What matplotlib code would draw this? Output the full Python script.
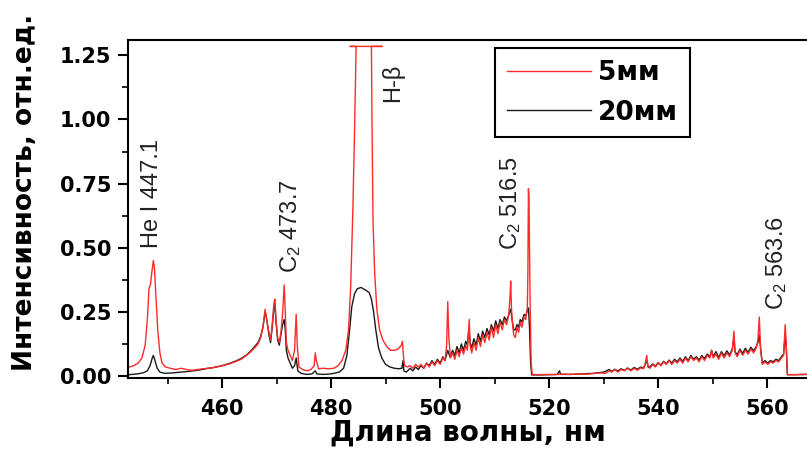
import matplotlib
matplotlib.use("Agg")
import matplotlib.pyplot as plt
from matplotlib.ticker import MultipleLocator, FormatStrFormatter

# спектр, 5 мм
wl_5mm = [443.0, 443.8, 444.6, 445.3, 445.9, 446.3, 446.6, 446.9, 447.1, 447.4,
          447.6, 447.9, 448.2, 448.6, 449.0, 449.6, 450.5, 451.5, 452.5, 453.5,
          454.5, 455.5, 456.5, 457.5, 458.5, 459.5, 460.5, 461.5, 462.5, 463.5,
          464.5, 465.3, 466.0, 466.6, 467.1, 467.5, 467.9, 468.2, 468.6, 468.9,
          469.2, 469.5, 469.7, 469.9, 470.2, 470.5, 470.8, 471.1, 471.4, 471.6,
          471.8, 472.1, 472.5, 472.9, 473.3, 473.6, 473.8, 474.1, 474.8, 475.6,
          476.3, 476.9, 477.1, 477.3, 477.7, 478.5, 479.5, 480.5, 481.3, 482.0,
          482.7, 483.2, 483.6, 484.0, 484.3, 484.6, 483.5, 489.4, 487.4, 487.5,
          487.7, 488.0, 488.4, 488.9, 489.5, 490.2, 490.9, 491.6, 492.3, 492.9,
          493.1, 493.3, 493.5, 494.0,
          494.5, 495.0, 495.5, 496.0, 496.5, 497.0, 497.5, 498.0, 498.5, 499.0,
          499.5, 500.0, 500.5, 500.9, 501.2, 501.4, 501.6, 501.9, 502.3, 502.7,
          503.1, 503.5, 503.9, 504.3, 504.7, 505.0, 505.2, 505.35, 505.5, 505.8,
          506.2, 506.6, 507.0, 507.4, 507.8, 508.2, 508.6, 509.0, 509.4, 509.8,
          510.2, 510.6, 511.0, 511.4, 511.8, 512.2, 512.6, 512.8, 512.95, 513.1,
          513.3, 513.5, 513.8, 514.1, 514.4, 514.7, 515.0, 515.4, 515.7, 516.0,
          516.1, 516.2, 516.3, 516.5, 516.7, 516.9,
          518.0, 519.5, 521.0, 522.5, 524.0, 525.5, 527.0, 528.5, 529.5, 530.3,
          531.0, 531.5, 532.0, 532.6, 533.2, 533.8, 534.4, 535.0, 535.6, 536.2,
          536.8, 537.3, 537.6, 537.9, 538.1, 538.5, 539.0, 539.5, 540.0, 540.5,
          541.0, 541.5, 542.0, 542.5, 543.0, 543.5, 544.0, 544.5, 545.0, 545.5,
          546.0, 546.5, 547.0, 547.5, 548.0, 548.5, 549.0, 549.5, 549.8, 550.1,
          550.6, 551.1, 551.6, 552.1, 552.6, 553.1, 553.6, 553.9, 554.1, 554.5,
          555.0, 555.5, 556.0, 556.5, 557.0, 557.5, 558.0, 558.3, 558.55, 558.8,
          559.1, 559.6, 560.1, 560.6, 561.1, 561.6, 562.1, 562.6, 563.0, 563.3,
          563.5, 563.7, 565.0, 567.2]
int_5mm = [0.035, 0.04, 0.05, 0.07, 0.12, 0.22, 0.34, 0.36, 0.40, 0.45,
           0.42, 0.30, 0.18, 0.09, 0.05, 0.035, 0.03, 0.025, 0.03, 0.025,
           0.022, 0.025, 0.028, 0.03, 0.033, 0.037, 0.042, 0.048, 0.056, 0.065,
           0.08, 0.095, 0.11, 0.125, 0.15, 0.19, 0.26, 0.22, 0.17, 0.14,
           0.20, 0.28, 0.30, 0.22, 0.15, 0.13, 0.17, 0.24, 0.355, 0.25,
           0.13, 0.10, 0.08, 0.06, 0.10, 0.24, 0.12, 0.035, 0.025, 0.02,
           0.025, 0.04, 0.09, 0.06, 0.028, 0.03, 0.028, 0.03, 0.04, 0.06,
           0.10, 0.18, 0.35, 0.65, 0.95, 1.285, 1.285, 1.285, 1.285, 1.0,
           0.60, 0.40, 0.26, 0.18, 0.14, 0.115, 0.10, 0.10, 0.105, 0.12,
           0.135, 0.07, 0.04, 0.035,
           0.04, 0.03, 0.045, 0.035, 0.045, 0.03, 0.05, 0.035, 0.055, 0.04,
           0.06, 0.045, 0.07, 0.06, 0.12, 0.29, 0.15, 0.07, 0.09, 0.065,
           0.10, 0.075, 0.11, 0.085, 0.12, 0.10, 0.17, 0.22, 0.12, 0.09,
           0.13, 0.10, 0.15, 0.115, 0.16, 0.13, 0.17, 0.14, 0.19, 0.15,
           0.20, 0.165, 0.21, 0.18, 0.22, 0.20, 0.24, 0.30, 0.37, 0.26,
           0.20, 0.16, 0.15, 0.19, 0.17, 0.21, 0.19, 0.23, 0.22, 0.265,
           0.40, 0.73, 0.70, 0.30, 0.05, 0.006,
           0.005, 0.006, 0.005, 0.007, 0.006, 0.008, 0.007, 0.01, 0.012, 0.01,
           0.02, 0.015, 0.025, 0.015, 0.025, 0.02, 0.03, 0.02, 0.03, 0.022,
           0.032, 0.028, 0.045, 0.08, 0.04, 0.03, 0.045, 0.035, 0.05, 0.04,
           0.055, 0.045, 0.06, 0.045, 0.06, 0.05, 0.065, 0.05, 0.07, 0.055,
           0.075, 0.06, 0.07, 0.055, 0.075, 0.06, 0.08, 0.07, 0.10, 0.07,
           0.085, 0.065, 0.09, 0.07, 0.09, 0.075, 0.10, 0.175, 0.09, 0.075,
           0.10, 0.08, 0.10, 0.085, 0.105, 0.09, 0.11, 0.14, 0.23, 0.10,
           0.045, 0.055, 0.045, 0.055, 0.05, 0.06, 0.055, 0.07, 0.08, 0.20,
           0.12, 0.005, 0.005, 0.006]

# спектр, 20 мм
wl_20mm = [443.0, 444.5, 445.5, 446.3, 446.8, 447.2, 447.4, 447.7, 448.1, 448.6,
           449.5, 451.0, 452.5, 454.0, 455.5, 456.5, 457.5, 458.5, 459.5, 460.5,
           461.5, 462.5, 463.5, 464.5, 465.3, 466.0, 466.6, 467.1, 467.5, 467.9,
           468.2, 468.6, 468.9, 469.2, 469.5, 469.7, 469.9, 470.2, 470.5, 470.8,
           471.1, 471.4, 471.6, 471.8, 472.1, 472.5, 472.9, 473.3, 473.6, 473.9,
           474.5, 475.5, 476.5, 477.1, 477.4, 478.5, 479.5, 480.5, 481.5, 482.3,
           482.9, 483.4, 483.8, 484.3, 484.8, 485.5, 486.3, 487.0, 487.4, 487.8,
           488.2, 488.7, 489.3, 490.0, 490.8, 491.6, 492.4, 493.0, 493.2, 493.35,
           493.8, 494.5, 495.0, 495.5, 496.0, 496.5, 497.0, 497.5, 498.0, 498.5,
           499.0, 499.5, 500.0, 500.5, 500.9, 501.4, 501.8, 502.3, 502.7, 503.1,
           503.5, 503.9, 504.3, 504.7, 505.0, 505.3, 505.5, 505.8, 506.2, 506.6,
           507.0, 507.4, 507.8, 508.2, 508.6, 509.0, 509.4, 509.8, 510.2, 510.6,
           511.0, 511.4, 511.8, 512.2, 512.6, 512.95, 513.2, 513.5, 513.8, 514.1,
           514.4, 514.7, 515.0, 515.4, 515.7, 516.0, 516.2, 516.4, 516.6, 516.8,
           518.5, 520.0, 521.5, 521.9, 522.1, 524.0, 526.0, 528.0, 530.0, 531.0,
           531.5, 532.0, 532.6, 533.2, 533.8, 534.4, 535.0, 535.6, 536.2, 536.8,
           537.3, 537.9, 538.2, 538.6, 539.0, 539.5, 540.0, 540.5, 541.0, 541.5,
           542.0, 542.5, 543.0, 543.5, 544.0, 544.5, 545.0, 545.5, 546.0, 546.5,
           547.0, 547.5, 548.0, 548.5, 549.0, 549.5, 549.8, 550.1, 550.6, 551.1,
           551.6, 552.1, 552.6, 553.1, 553.6, 553.9, 554.1, 554.5, 555.0, 555.5,
           556.0, 556.5, 557.0, 557.5, 558.0, 558.3, 558.55, 558.8, 559.1, 559.6,
           560.1, 560.6, 561.1, 561.6, 562.1, 562.6, 563.0, 563.3, 563.5, 563.7,
           565.0, 567.2]
int_20mm = [0.005, 0.008, 0.012, 0.02, 0.04, 0.07, 0.08, 0.06, 0.03, 0.015,
            0.01, 0.012, 0.015, 0.018, 0.022, 0.026, 0.03, 0.033, 0.038, 0.043,
            0.05, 0.058, 0.068, 0.082, 0.098, 0.115, 0.13, 0.155, 0.19, 0.25,
            0.22, 0.16, 0.13, 0.19, 0.26, 0.28, 0.21, 0.14, 0.12, 0.16,
            0.20, 0.22, 0.18, 0.10, 0.07, 0.05, 0.03, 0.04, 0.07, 0.02,
            0.01, 0.006, 0.008, 0.02, 0.008, 0.006, 0.007, 0.01, 0.015, 0.03,
            0.08, 0.18, 0.27, 0.32, 0.34, 0.345, 0.335, 0.325, 0.30, 0.25,
            0.18, 0.11, 0.07, 0.045, 0.035, 0.03, 0.028, 0.03, 0.06, 0.02,
            0.015, 0.03, 0.02, 0.035, 0.025, 0.04, 0.03, 0.05, 0.04, 0.06,
            0.045, 0.065, 0.05, 0.075, 0.06, 0.10, 0.075, 0.10, 0.08, 0.115,
            0.09, 0.125, 0.10, 0.135, 0.12, 0.19, 0.13, 0.11, 0.145, 0.12,
            0.165, 0.135, 0.175, 0.15, 0.185, 0.16, 0.20, 0.175, 0.215, 0.185,
            0.22, 0.20, 0.23, 0.215, 0.24, 0.26, 0.22, 0.18, 0.18, 0.20,
            0.19, 0.22, 0.21, 0.24, 0.235, 0.255, 0.265, 0.19, 0.05, 0.004,
            0.004, 0.005, 0.006, 0.02, 0.006, 0.006, 0.008, 0.01, 0.015, 0.025,
            0.018, 0.026, 0.019, 0.028, 0.021, 0.031, 0.023, 0.033, 0.026, 0.035,
            0.03, 0.06, 0.033, 0.038, 0.047, 0.038, 0.052, 0.042, 0.057, 0.047,
            0.062, 0.05, 0.065, 0.055, 0.07, 0.057, 0.075, 0.06, 0.08, 0.065,
            0.075, 0.062, 0.08, 0.068, 0.085, 0.075, 0.10, 0.075, 0.095, 0.072,
            0.095, 0.078, 0.098, 0.082, 0.105, 0.15, 0.095, 0.082, 0.105, 0.088,
            0.108, 0.092, 0.112, 0.098, 0.115, 0.13, 0.16, 0.105, 0.05, 0.06,
            0.05, 0.06, 0.055, 0.065, 0.06, 0.075, 0.085, 0.16, 0.11, 0.005,
            0.005, 0.006]

# подписи линий: текст, x, y
line_labels = ["He I 447.1", "C$_2$ 473.7", "H-β", "C$_2$ 516.5", "C$_2$ 563.6"]
label_x = [447.2, 472.5, 491.2, 513.0, 561.7]
label_y = [0.50, 0.40, 1.07, 0.49, 0.257]

plt.rcParams["font.family"] = "DejaVu Sans"
plt.rcParams["font.weight"] = "bold"
plt.rcParams["mathtext.default"] = "regular"

fig = plt.figure(figsize=(8.07, 4.5), dpi=100)
ax = fig.add_axes([128 / 807, 72 / 450, 679 / 807, 338 / 450])

l20, = ax.plot(wl_20mm, int_20mm, color="#1a1a1a", lw=1.0, label="20мм")
l5, = ax.plot(wl_5mm, int_5mm, color="#ff2a2a", lw=1.0, label="5мм")

for txt, x, y in zip(line_labels, label_x, label_y):
    ax.text(x, y, txt, rotation=90, ha="center", va="bottom", fontsize=17,
            family="Liberation Sans", fontweight="normal", color="#222222")

ax.set_xlim(442.75, 567.3)
ax.set_ylim(-0.008, 1.31)
ax.xaxis.set_major_locator(MultipleLocator(20))
ax.xaxis.set_minor_locator(MultipleLocator(10))
ax.yaxis.set_major_locator(MultipleLocator(0.25))
ax.yaxis.set_minor_locator(MultipleLocator(0.125))
ax.yaxis.set_major_formatter(FormatStrFormatter("%.2f"))
ax.tick_params(which="major", direction="out", length=7, width=1.5, labelsize=15, pad=5)
ax.tick_params(axis="x", which="major", pad=8)
ax.tick_params(which="minor", direction="out", length=4, width=1.2)
ax.spines["right"].set_visible(False)
for s in ["left", "bottom", "top"]:
    ax.spines[s].set_linewidth(1.5)

ax.set_xlabel("Длина волны, нм", fontsize=20, fontweight="bold", labelpad=0)
ax.set_ylabel("Интенсивность, отн.ед.", fontsize=19, fontweight="bold")
ax.yaxis.set_label_coords(-0.133, 0.55)

leg = ax.legend(handles=[l5, l20], loc="upper left", bbox_to_anchor=(0.5405, 0.975),
                borderaxespad=0, fancybox=False, edgecolor="black", framealpha=1,
                prop={"weight": "bold", "size": 19}, handlelength=3.2,
                handletextpad=0.25, labelspacing=0.5, borderpad=0.45)
leg.get_frame().set_linewidth(1.5)

plt.savefig("out.png", dpi=100)
